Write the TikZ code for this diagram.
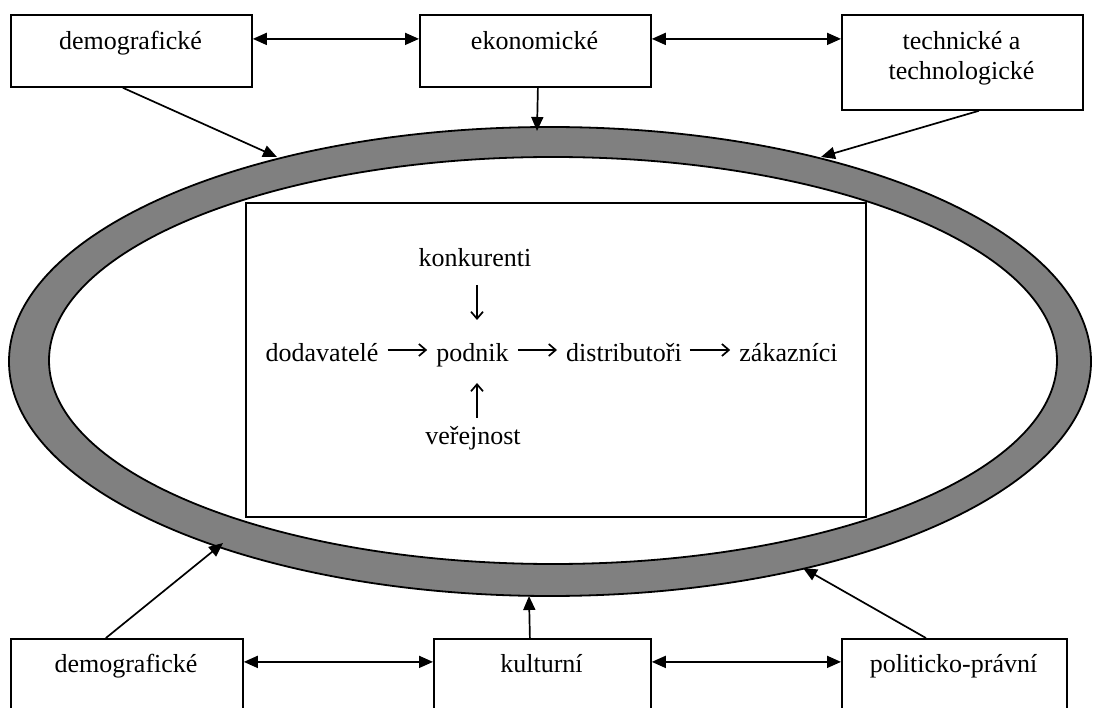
\documentclass[tikz,border=0pt]{standalone}
\usepackage{fontspec}
\setmainfont{Liberation Serif}
\usetikzlibrary{arrows.meta}
\definecolor{ringgray}{HTML}{808080}
\begin{document}
\begin{tikzpicture}[x=1pt,y=-1pt,
  box/.style={draw, line width=1.8pt, inner sep=0pt, anchor=north west},
  lbl/.style={inner sep=0pt, anchor=base, font=\fontsize{26}{30}\selectfont},
  conn/.style={line width=1.7pt, -{Triangle[length=14pt,width=12pt]}},
  dbl/.style={line width=1.7pt, {Triangle[length=14pt,width=12pt]}-{Triangle[length=14pt,width=12pt]}},
  flow/.style={line width=1.7pt, -{Straight Barb[length=7pt,width=12pt]}}
]
\useasboundingbox (0,0) rectangle (1109,708);
\clip (0,0) rectangle (1109,708);

% ring
\draw[line width=1.8pt, fill=ringgray] (550,361.5) ellipse [x radius=541, y radius=234.5];
\draw[line width=1.8pt, fill=white] (553,360.5) ellipse [x radius=504, y radius=203.5];

% inner rectangle
\node[box, minimum width=620pt, minimum height=314pt] (env) at (245,202) {};

% top boxes
\node[box, minimum width=241pt, minimum height=72pt] (b1) at (10,14) {};
\node[box, minimum width=231pt, minimum height=72pt] (b2) at (419,14) {};
\node[box, minimum width=241pt, minimum height=95pt] (b3) at (841,14) {};
\node[lbl] (t1) at (130.5,50) {demografické};
\node[lbl] (t2) at (534.5,50) {ekonomické};
\node[lbl] (t3a) at (961.5,50) {technické a};
\node[lbl] (t3b) at (961.5,80) {technologické};

% bottom boxes
\node[box, minimum width=232pt, minimum height=102pt] (b4) at (10,638) {};
\node[box, minimum width=217pt, minimum height=102pt] (b5) at (433,638) {};
\node[box, minimum width=225pt, minimum height=102pt] (b6) at (841,638) {};
\node[lbl] (t4) at (126,672) {demografické};
\node[lbl] (t5) at (541.5,672) {kulturní};
\node[lbl] (t6) at (953.5,672) {politicko-právní};

% connectors top
\draw[dbl] ([yshift=12pt]b1.east) -- ([yshift=12pt]b2.west);
\draw[dbl] ([yshift=12pt]b2.east) -- ([yshift=23.5pt]b3.west);
\coordinate (p1) at (277,157);
\coordinate (p2) at (537,131);
\coordinate (p3) at (821,157);
\draw[conn] ([xshift=-8.5pt]b1.south) -- (p1);
\draw[conn] ([xshift=2.5pt]b2.south) -- (p2);
\draw[conn] ([xshift=16.5pt]b3.south) -- (p3);

% connectors bottom
\draw[dbl] ([yshift=28pt]b4.east) -- ([yshift=28pt]b5.west);
\draw[dbl] ([yshift=28pt]b5.east) -- ([yshift=28pt]b6.west);
\coordinate (p4) at (223,543);
\coordinate (p5) at (529,596);
\coordinate (p6) at (803,568);
\draw[conn] ([xshift=-21pt]b4.north) -- (p4);
\draw[conn] ([xshift=-12.5pt]b5.north) -- (p5);
\draw[conn] ([xshift=-28.5pt]b6.north) -- (p6);

% inner flow
\node[lbl] (dod) at (322,362) {dodavatelé};
\node[lbl] (pod) at (472.5,362) {podnik};
\node[lbl] (dis) at (624,362) {distributoři};
\node[lbl] (zak) at (788.5,362) {zákazníci};
\node[lbl] (kon) at (475,267) {konkurenti};
\node[lbl] (ver) at (473,445) {veřejnost};
\draw[flow] ([xshift=9pt,yshift=12pt]dod.base east) -- ([xshift=-9pt,yshift=12pt]pod.base west);
\draw[flow] ([xshift=9pt,yshift=12pt]pod.base east) -- ([xshift=-9pt,yshift=12pt]dis.base west);
\draw[flow] ([xshift=8pt,yshift=12pt]dis.base east) -- ([xshift=-9pt,yshift=12pt]zak.base west);
\draw[flow] ([xshift=2pt,yshift=-18pt]kon.base) -- ([xshift=4.5pt,yshift=42pt]pod.base);
\draw[flow] ([xshift=4pt,yshift=27pt]ver.base) -- ([xshift=4.5pt,yshift=-21pt]pod.base);
\end{tikzpicture}
\end{document}
